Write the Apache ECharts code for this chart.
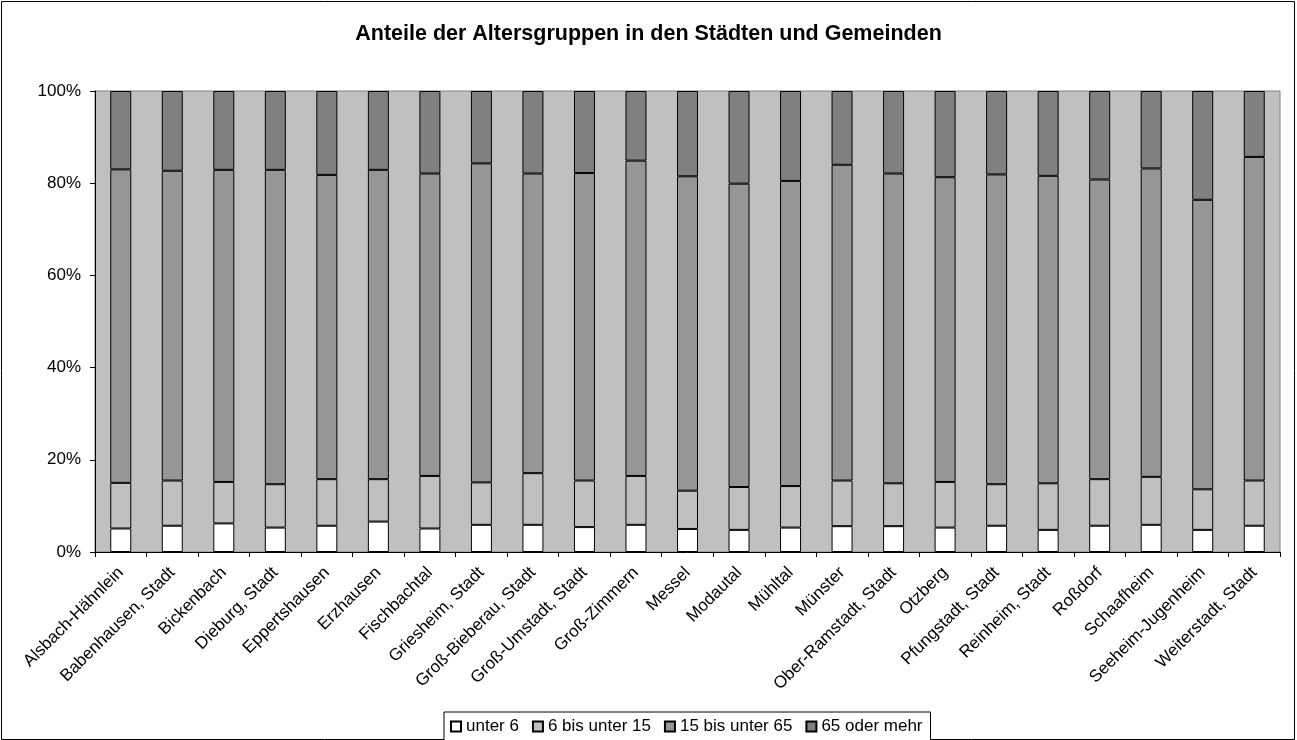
<!DOCTYPE html>
<html>
<head>
<meta charset="utf-8">
<script src="https://cdn.jsdelivr.net/npm/echarts@6/dist/echarts.min.js"></script>
<style>
html,body{margin:0;padding:0;background:#fff;}
#chart{width:1297px;height:740px;}
</style>
</head>
<body>
<div id="chart"></div>
<script>
const categories = ["Alsbach-Hähnlein","Babenhausen, Stadt","Bickenbach","Dieburg, Stadt","Eppertshausen","Erzhausen","Fischbachtal","Griesheim, Stadt","Groß-Bieberau, Stadt","Groß-Umstadt, Stadt","Groß-Zimmern","Messel","Modautal","Mühltal","Münster","Ober-Ramstadt, Stadt","Otzberg","Pfungstadt, Stadt","Reinheim, Stadt","Roßdorf","Schaafheim","Seeheim-Jugenheim","Weiterstadt, Stadt"];
const seriesNames = ["unter 6","6 bis unter 15","15 bis unter 65","65 oder mehr"];
const unter6 = [5.1,5.7,6.2,5.3,5.7,6.6,5.1,5.9,5.9,5.4,5.9,5.0,4.8,5.3,5.6,5.6,5.3,5.7,4.8,5.7,5.9,4.8,5.7];
const von6bis15 = [9.9,9.8,9.0,9.4,10.1,9.2,11.4,9.2,11.2,10.1,10.6,8.3,9.3,9.0,9.9,9.3,9.9,9.0,10.1,10.1,10.4,8.8,9.8];
const von15bis65 = [68.0,67.2,67.7,68.2,66.0,67.1,65.6,69.2,65.0,66.7,68.4,68.2,65.8,66.2,68.5,67.2,66.1,67.2,66.7,65.0,66.9,62.8,70.2];
const ab65 = [17.0,17.3,17.1,17.1,18.2,17.1,17.9,15.7,17.9,17.8,15.1,18.5,20.1,19.5,16.0,17.9,18.7,18.1,18.4,19.2,16.8,23.6,14.3];
const yTicks = [0,20,40,60,80,100];

const colors = ['#FFFFFF','#C0C0C0','#969696','#808080'];
const values = [unter6, von6bis15, von15bis65, ab65];
const FONT = 'Arial, "Liberation Sans", sans-serif';

const chart = echarts.init(document.getElementById('chart'), null, {renderer:'canvas'});
chart.setOption({
  animation:false,
  backgroundColor:'#fff',
  textStyle:{fontFamily:FONT},
  title:{
    text:'Anteile der Altersgruppen in den Städten und Gemeinden',
    left:'center', top:18,
    textStyle:{fontSize:21.5,fontWeight:'bold',color:'#000',fontFamily:FONT}
  },
  legend:{
    left:444, top:712,
    data:seriesNames,
    icon:'rect', itemWidth:10, itemHeight:10, itemGap:13,
    borderColor:'#000', borderWidth:1, padding:[6,8,9,6],
    backgroundColor:'#fff',
    textStyle:{fontSize:17,color:'#000',fontFamily:FONT, padding:[0,0,0,0]}
  },
  grid:{
    left:95, right:17, top:91, bottom:188,
    show:true, backgroundColor:'#C0C0C0', borderColor:'#808080', borderWidth:1
  },
  xAxis:{
    type:'category', data:categories,
    axisLine:{lineStyle:{color:'#000',width:1}},
    axisTick:{show:true, alignWithLabel:false, length:5, lineStyle:{color:'#000'}},
    axisLabel:{rotate:45, interval:0, fontSize:17, color:'#000', fontFamily:FONT, margin:18}
  },
  yAxis:{
    type:'value', min:yTicks[0], max:yTicks[yTicks.length-1], interval:20,
    axisLine:{show:true, lineStyle:{color:'#000',width:1}},
    axisTick:{show:true, length:5, lineStyle:{color:'#000'}},
    splitLine:{show:false},
    axisLabel:{formatter:'{value}%', fontSize:17, color:'#000', fontFamily:FONT, margin:14}
  },
  series: seriesNames.map((n,i)=>({
    name:n, type:'bar', stack:'total', barWidth:21,
    data:values[i],
    itemStyle:{color:colors[i], borderColor:'#000', borderWidth:1}
  })),
  graphic:[{
    type:'rect', shape:{x:1.5,y:1.5,width:1293,height:738},
    style:{fill:'none', stroke:'#000', lineWidth:1}, silent:true, z:-1
  }]
});
</script>
</body>
</html>
